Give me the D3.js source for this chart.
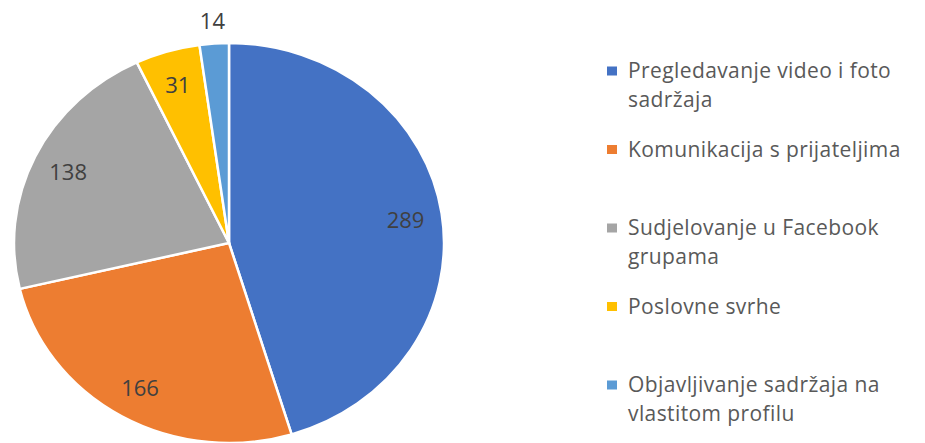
<!DOCTYPE html>
<html>
<head>
<meta charset="utf-8">
<script src="https://cdn.jsdelivr.net/npm/d3@7"></script>
<style>
  body { margin: 0; background: #fff; }
  svg { display: block; }
  text { font-family: "Open Sans", sans-serif; }
</style>
</head>
<body>
<div id="chart"></div>
<script>
// data
const categories = [
  "Pregledavanje video i foto sadržaja",
  "Komunikacija s prijateljima",
  "Sudjelovanje u Facebook grupama",
  "Poslovne svrhe",
  "Objavljivanje sadržaja na vlastitom profilu"
];
const legendLines = [
  ["Pregledavanje video i foto", "sadržaja"],
  ["Komunikacija s prijateljima"],
  ["Sudjelovanje u Facebook", "grupama"],
  ["Poslovne svrhe"],
  ["Objavljivanje sadržaja na", "vlastitom profilu"]
];
const values = [289, 166, 138, 31, 14];
const colours = ["#4472C4", "#ED7D31", "#A5A5A5", "#FFC000", "#5B9BD5"];

const config = {
  width: 925, height: 443,
  cx: 229, cy: 243,
  rx: 215, ry: 200,
  legendX: 607,
  legendTop: 71, legendBottom: 385,
  lineHeight: 29
};

const svg = d3.select("#chart").append("svg")
  .attr("width", config.width)
  .attr("height", config.height);

const pie = d3.pie().sort(null).value(d => d);
const arcs = pie(values);
const total = d3.sum(values);

const arc = d3.arc().innerRadius(0).outerRadius(config.ry);

// pie is slightly wider than tall in the original
const pieG = svg.append("g")
  .attr("transform", `translate(${config.cx},${config.cy}) scale(${config.rx / config.ry},1)`);

pieG.selectAll("path")
  .data(arcs)
  .join("path")
  .attr("d", arc)
  .attr("fill", (d, i) => colours[i])
  .attr("stroke", "#fff")
  .attr("stroke-width", 2.5)
  .attr("vector-effect", "non-scaling-stroke");

// data labels, small slices go outside
const labelPos = d => {
  const a = (d.startAngle + d.endAngle) / 2;
  const r = d.value / total < 0.03 ? 1.12 : 0.83;
  return [config.cx + config.rx * r * Math.sin(a), config.cy - config.ry * r * Math.cos(a)];
};

svg.append("g").selectAll("text")
  .data(arcs)
  .join("text")
  .attr("x", d => labelPos(d)[0])
  .attr("y", d => labelPos(d)[1])
  .attr("text-anchor", "middle")
  .attr("dominant-baseline", "central")
  .attr("font-size", 22)
  .attr("fill", "#404040")
  .text(d => d.value);

// legend
const legendY = d3.scalePoint()
  .domain(categories)
  .range([config.legendTop, config.legendBottom]);

const item = svg.append("g").selectAll("g")
  .data(categories)
  .join("g")
  .attr("transform", d => `translate(${config.legendX},${legendY(d)})`);

item.append("rect")
  .attr("x", 0).attr("y", -4.5)
  .attr("width", 10).attr("height", 9)
  .attr("fill", (d, i) => colours[i]);

item.append("text")
  .attr("x", 21)
  .attr("y", 7)
  .attr("font-size", 21)
  .attr("letter-spacing", 0.4)
  .attr("fill", "#595959")
  .selectAll("tspan")
  .data((d, i) => legendLines[i])
  .join("tspan")
  .attr("x", 21)
  .attr("dy", (d, j) => j === 0 ? 0 : config.lineHeight)
  .text(d => d);
</script>
</body>
</html>
